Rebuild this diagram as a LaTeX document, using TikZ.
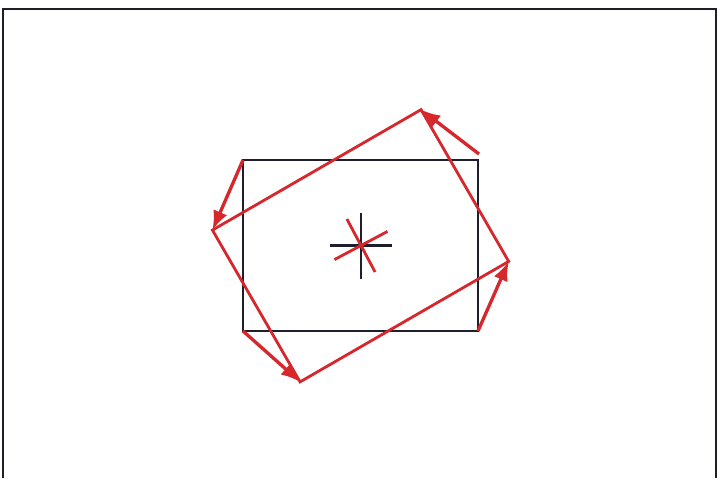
\documentclass[tikz,border=0pt]{standalone}
\usetikzlibrary{arrows.meta,calc}
\definecolor{turnred}{RGB}{214,40,44}
\definecolor{boxline}{RGB}{30,30,45}
\begin{document}
\begin{tikzpicture}[x=0.02cm,y=-0.02cm,
    frame/.style={line width=1.6pt,boxline},
    box/.style={line width=1.5pt,boxline},
    turned/.style={line width=1.6pt,turnred},
    move/.style={line width=1.9pt,turnred,-{Latex[length=11pt,width=8.5pt]}}]
    \useasboundingbox (0,0) rectangle (718,478);
    \draw[frame] (3,478) -- (3,9) -- (716,9) -- (716,478);

    % black box and its centre
    \coordinate (c) at (361,245.5);
    \coordinate (tl) at (243,160);
    \coordinate (tr) at (478,160);
    \coordinate (br) at (478,331);
    \coordinate (bl) at (243,331);
    \draw[box] (tl) -- (tr) -- (br) -- (bl) -- cycle;
    \draw[box] ($(c)+(-31,0)$) -- ($(c)+(31,0)$);
    \draw[box] ($(c)+(0,-33)$) -- ($(c)+(0,33)$);

    % turned box
    \coordinate (rtl) at ($(c)!1.025!30:(tl)$);
    \coordinate (rtr) at ($(c)!1.025!30:(tr)$);
    \coordinate (rbr) at ($(c)!1.025!30:(br)$);
    \coordinate (rbl) at ($(c)!1.025!30:(bl)$);
    \draw[turned] (rtl) -- (rtr) -- (rbr) -- (rbl) -- cycle;
    \draw[turned] ($(c)!1!28:($(c)+(-30,0)$)$) -- ($(c)!1!28:($(c)+(30,0)$)$);
    \draw[turned] ($(c)!1!28:($(c)+(0,-30)$)$) -- ($(c)!1!28:($(c)+(0,30)$)$);

    % corner moves
    \draw[move] (tl) -- (rtl);
    \draw[move] ($(tr)+(1,-6)$) -- (rtr);
    \draw[move] (br) -- (rbr);
    \draw[move] (bl) -- (rbl);
\end{tikzpicture}
\end{document}
